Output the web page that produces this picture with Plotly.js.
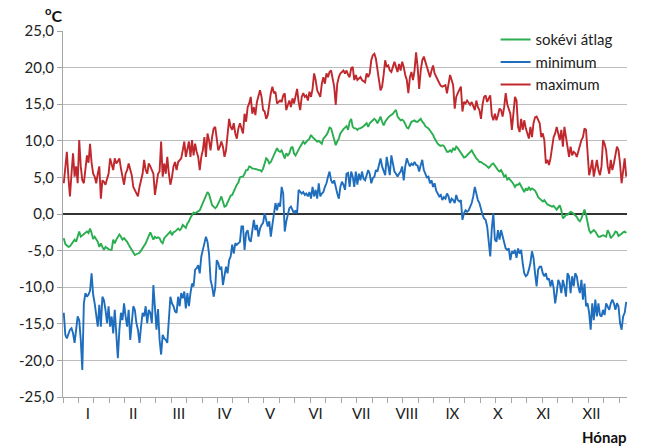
<!DOCTYPE html>
<html>
<head>
<meta charset="utf-8">
<script src="https://cdn.plot.ly/plotly-3.0.1.min.js"></script>
<style>html,body{margin:0;padding:0;background:#fff;}#chart{width:646px;height:447px;}</style>
</head>
<body>
<div id="chart"></div>
<script>
// Daily values (°C), day 1 .. 365
const avgSeries = [
-3.3,-4.1,-4.3,-4.5,-4.4,-4.1,-3.8,-3.5,-3.8,-2.9,
-2.4,-3.1,-2.9,-2.7,-2.5,-2.4,-2.6,-2.0,-2.6,-3.4,
-3.1,-3.5,-3.8,-4.5,-4.0,-4.5,-4.9,-4.5,-4.7,-4.8,
-4.9,-4.9,-3.5,-4.0,-3.5,-3.1,-2.8,-3.1,-3.5,-3.3,
-3.5,-3.8,-4.2,-4.6,-5.0,-5.4,-5.6,-5.5,-5.4,-5.3,
-5.0,-4.7,-4.4,-4.0,-3.5,-2.9,-2.5,-3.0,-3.5,-3.1,
-3.3,-3.2,-3.3,-3.8,-4.0,-3.3,-3.1,-2.9,-2.6,-2.4,
-2.9,-2.5,-2.4,-2.2,-2.0,-2.2,-2.0,-1.5,-1.7,-1.9,
-1.3,-1.0,-0.5,-0.1,0.2,0.1,0.2,0.3,0.5,1.0,
1.5,1.9,2.6,3.0,2.7,1.9,1.2,1.0,0.8,1.0,
1.6,1.9,2.4,1.5,1.0,1.1,1.5,2.1,2.5,2.6,
3.1,3.7,4.0,4.3,5.0,5.1,5.1,5.5,6.0,6.0,
6.5,6.4,6.2,6.2,6.2,6.1,6.0,6.0,5.8,6.2,
6.9,7.6,7.4,6.9,7.1,7.6,8.0,8.5,9.0,8.6,
8.5,8.7,8.0,7.6,8.3,8.0,8.3,9.0,9.2,8.3,
8.0,8.5,8.8,9.2,9.6,9.9,9.6,9.9,10.1,10.3,
10.8,10.5,10.3,10.1,9.9,10.0,9.8,9.6,10.3,10.5,
10.8,11.2,11.8,11.7,11.0,10.1,9.4,9.9,10.3,11.0,
11.4,11.6,11.8,12.0,11.5,12.6,13.0,11.9,11.7,11.7,
11.5,11.7,11.7,11.8,12.0,12.2,12.4,11.9,12.4,12.6,
12.8,13.0,12.8,12.4,12.8,13.3,12.6,12.1,12.6,13.0,
13.2,13.4,13.5,13.7,14.0,14.2,13.3,13.0,12.8,12.9,
12.7,12.3,11.8,11.7,12.1,12.6,12.7,12.8,12.6,12.6,
12.8,13.0,12.6,12.4,12.0,11.9,11.7,11.4,11.1,10.8,
10.3,9.9,9.6,9.4,9.3,9.4,9.3,8.9,8.5,8.5,
8.7,8.5,9.0,8.7,9.2,9.0,8.7,8.3,8.0,7.7,
7.8,8.0,8.2,8.5,8.7,8.3,7.9,7.6,7.4,7.1,
7.1,6.9,6.8,6.7,6.5,6.3,6.5,6.8,6.9,6.6,
6.2,6.0,5.8,6.0,5.6,5.1,5.3,4.7,4.9,4.7,
4.4,4.1,3.7,4.0,4.0,4.2,3.8,3.3,3.0,3.5,
3.2,3.7,3.3,3.5,3.4,3.2,2.8,2.3,2.1,1.9,
1.7,1.9,1.6,1.3,1.2,1.1,1.0,1.1,0.8,0.6,
0.9,1.2,0.5,-0.6,-0.4,-0.1,-0.1,0.1,0.3,0.2,
0.0,-0.1,-0.4,-0.8,-1.0,-0.6,0.1,0.6,-0.1,-1.3,
-2.2,-2.6,-2.4,-2.2,-2.4,-2.8,-3.1,-3.1,-3.0,-2.9,
-3.0,-3.1,-2.2,-2.6,-3.3,-3.1,-2.8,-2.4,-2.5,-3.0,
-2.9,-2.7,-2.5,-2.4,-2.6
];
const minSeries = [
-13.5,-16.5,-17.0,-16.5,-15.8,-15.6,-16.3,-17.6,-15.8,-14.0,
-14.5,-17.2,-21.3,-12.2,-10.8,-11.3,-11.0,-10.5,-8.1,-11.0,
-12.2,-14.0,-15.4,-12.4,-15.4,-11.3,-11.8,-13.1,-14.9,-12.6,
-15.4,-14.0,-16.3,-13.1,-17.2,-19.7,-15.8,-13.5,-14.5,-12.2,
-14.0,-15.4,-13.1,-17.2,-14.9,-12.6,-13.1,-14.9,-15.8,-17.6,
-15.4,-13.5,-14.0,-12.6,-14.9,-13.1,-13.5,-14.9,-9.7,-12.6,
-15.8,-13.0,-17.2,-19.2,-16.5,-17.0,-17.2,-17.6,-14.5,-11.3,
-12.2,-12.6,-13.3,-13.5,-11.3,-12.6,-10.8,-11.5,-10.6,-12.9,
-10.8,-12.6,-10.8,-9.5,-9.9,-7.6,-7.4,-7.0,-8.1,-5.8,
-4.9,-4.0,-3.1,-3.8,-5.4,-9.0,-9.9,-11.3,-10.1,-6.3,
-6.7,-7.6,-7.2,-9.7,-8.1,-7.2,-8.1,-6.3,-5.8,-4.2,
-5.4,-4.0,-4.2,-4.0,-3.8,-1.7,-1.7,-4.9,-2.6,-2.2,
-3.5,-3.8,-2.2,-0.8,-2.2,-1.5,-3.1,-2.0,-1.5,-1.2,
0.1,-1.0,-1.7,-1.0,-3.1,-1.5,0.1,1.5,0.5,1.5,
1.0,3.7,2.8,-2.4,-1.0,0.1,0.8,1.0,0.5,0.1,
0.5,0.1,3.3,3.0,2.8,3.0,2.6,2.8,2.4,3.0,
2.1,3.7,2.4,3.3,2.1,4.2,2.4,2.8,3.0,3.7,
4.2,5.1,5.8,4.6,4.2,4.6,3.5,2.8,2.1,3.7,
4.4,4.0,3.3,5.5,5.6,3.7,5.8,5.1,3.7,5.8,
4.0,5.5,4.6,5.8,4.8,4.6,5.3,6.0,5.5,4.2,
4.9,5.1,6.0,5.8,6.7,7.6,6.5,5.8,5.3,7.8,
6.5,5.3,8.0,7.0,5.8,5.5,5.1,5.5,5.8,6.5,
4.6,6.5,7.6,7.0,6.5,6.9,6.7,7.1,6.7,6.6,
5.8,6.7,7.4,6.0,5.5,5.0,5.1,4.2,4.6,3.7,
4.2,3.2,2.8,2.4,2.6,1.9,2.3,2.1,2.8,2.4,
1.5,2.1,1.9,1.5,2.6,1.9,1.7,1.9,-0.8,0.1,
0.5,0.3,0.5,1.0,1.5,2.4,3.7,2.8,1.9,1.5,
0.5,-0.1,-0.6,-0.8,-1.7,-4.0,-5.8,-2.0,0.1,-3.5,
-3.8,-2.2,-3.5,-2.2,-3.1,-4.2,-4.7,-4.9,-4.7,-6.3,
-5.1,-5.4,-4.9,-6.0,-4.7,-5.4,-4.9,-6.7,-8.1,-8.5,
-8.3,-7.6,-6.7,-5.1,-6.0,-8.1,-9.9,-7.6,-7.2,-7.2,
-8.1,-8.5,-8.1,-9.0,-8.8,-9.9,-9.0,-10.1,-12.2,-10.8,
-9.0,-9.5,-10.8,-9.0,-9.9,-11.3,-8.1,-8.5,-10.8,-8.5,
-9.9,-8.1,-8.5,-9.9,-10.8,-9.0,-11.7,-9.5,-12.6,-12.2,
-13.5,-15.8,-12.2,-14.5,-11.7,-14.0,-12.2,-13.8,-14.0,-13.1,
-13.8,-12.2,-12.6,-13.1,-12.2,-11.7,-12.2,-13.1,-12.2,-12.6,
-14.9,-15.8,-14.0,-13.5,-12.0
];
const maxSeries = [
4.2,7.0,8.5,5.0,2.4,5.5,8.3,5.1,6.5,4.2,
10.1,6.5,4.6,4.2,6.5,8.0,7.0,9.6,7.0,5.5,
5.1,4.2,5.5,6.5,2.1,4.6,4.4,4.0,4.8,5.5,
7.6,6.6,6.0,7.6,6.9,7.2,7.6,6.2,5.0,4.0,
5.5,6.0,6.9,6.0,5.3,3.7,3.2,2.8,2.4,3.7,
4.5,5.5,7.4,6.0,5.5,6.9,6.5,6.0,5.5,2.6,
4.5,5.5,5.8,9.9,5.1,6.9,5.5,7.8,5.5,4.0,
5.0,6.5,7.1,6.0,7.1,7.4,7.6,8.7,9.9,7.8,
8.7,9.9,7.8,10.1,8.0,9.6,8.5,7.8,6.0,7.8,
8.7,10.5,7.8,11.0,10.1,8.7,10.5,11.7,11.9,10.0,
8.7,9.2,9.9,9.2,7.8,8.7,10.5,13.0,11.9,11.5,
12.4,11.0,10.3,11.7,12.4,11.5,11.0,13.7,12.6,14.6,
15.1,16.0,13.7,14.6,13.5,15.3,16.0,16.9,16.0,14.2,
14.0,13.0,13.5,15.1,16.5,17.4,16.5,16.7,15.1,15.3,
15.5,15.3,16.2,16.5,14.2,14.9,15.5,14.6,15.8,15.1,
16.0,17.1,15.3,14.2,16.0,16.5,16.0,16.2,15.5,16.7,
16.0,17.1,19.2,18.3,16.9,16.5,16.0,17.8,18.7,17.8,
19.2,18.7,19.4,19.6,18.3,17.4,14.9,17.8,18.7,19.2,
19.4,19.6,19.2,19.6,19.0,18.7,19.9,20.1,18.3,19.0,
18.3,18.5,18.7,18.3,18.2,18.0,19.2,18.7,19.2,21.0,
21.7,21.9,21.2,19.4,18.3,16.9,17.4,19.0,21.0,20.1,
20.3,19.6,19.4,20.1,20.8,20.1,19.4,20.5,19.6,20.8,
20.1,19.0,18.3,16.5,18.7,19.4,18.3,19.6,22.1,20.1,
17.1,19.6,21.0,21.5,20.8,20.3,19.6,18.7,19.6,20.3,
19.2,18.7,18.3,17.9,17.5,17.4,17.5,17.6,16.5,17.8,
19.0,18.3,17.6,14.4,16.0,16.5,16.9,17.4,14.0,15.3,
15.1,15.5,15.2,14.9,15.3,14.6,14.2,15.5,14.6,14.2,
13.0,14.9,16.0,16.2,15.3,15.8,16.2,13.5,12.8,13.7,
12.8,13.5,14.4,14.2,13.3,14.6,16.5,15.0,14.4,13.7,
11.5,14.0,16.0,15.5,11.9,11.2,13.0,11.5,12.8,11.7,
10.8,10.3,11.9,10.5,12.4,13.2,13.3,12.8,12.4,10.5,
11.0,10.1,6.9,7.4,6.7,7.6,9.0,10.5,11.0,11.9,
11.0,10.1,11.5,9.2,11.9,10.5,8.7,7.8,9.2,8.0,
8.5,8.3,7.8,8.7,9.5,10.1,10.5,11.7,11.5,7.8,
5.3,6.2,7.4,5.1,6.5,7.4,6.0,5.3,6.5,10.1,
9.6,8.7,6.5,5.5,7.4,6.0,6.9,8.0,9.2,8.7,
6.9,4.2,6.0,7.6,5.1
];
const seriesNames = ['sokévi átlag', 'minimum', 'maximum'];
const monthLabels = ['I','II','III','IV','V','VI','VII','VIII','IX','X','XI','XII'];
const monthLabelPos = [15.5, 45, 74.5, 104, 133.5, 163, 192.5, 222, 251.5, 281, 310.5, 341.5];
const yTickVals = [25, 20, 15, 10, 5, 0, -5, -10, -15, -20, -25];
const yTickText = ['25,0','20,0','15,0','10,0','5,0','0,0','-5,0','-10,0','-15,0','-20,0','-25,0'];

const days = avgSeries.map((_, i) => i);
const font = 'Lato, "Open Sans", sans-serif';
const colors = ['#2aae4f', '#1f6ebe', '#c0282d'];
const data = [avgSeries, minSeries, maxSeries].map((ys, k) => ({
  type: 'scatter', mode: 'lines', x: days, y: ys, name: seriesNames[k],
  line: {color: colors[k], width: 1.9}, hoverinfo: 'skip'
}));
// empty trace carrying the month-label axis
data.push({type:'scatter', mode:'lines', x:[0,364], y:[null,null], xaxis:'x2', showlegend:false, hoverinfo:'skip'});

const layout = {
  width: 646, height: 447,
  margin: {l: 63.3, r: 18.7, t: 30.5, b: 49.5},
  paper_bgcolor: '#fff', plot_bgcolor: '#fff',
  font: {family: font, size: 14, color: '#222'},
  showlegend: true,
  legend: {x: 0.767, y: 1.021, xanchor: 'left', yanchor: 'top', bgcolor: 'rgba(0,0,0,0)',
           font: {family: font, size: 15, color: '#222'}, itemwidth: 30, tracegroupgap: 0},
  xaxis: {range: [-0.5, 364.5], tickmode: 'linear', tick0: -0.5, dtick: 10, ticks: 'outside', ticklen: 5,
          tickcolor: '#a6a6a6', showticklabels: false, showgrid: false, zeroline: false,
          showline: true, linecolor: '#a6a6a6', linewidth: 1, fixedrange: true},
  xaxis2: {overlaying: 'x', anchor: 'y', side: 'bottom', range: [-0.5, 364.5], tickmode: 'array',
           tickvals: monthLabelPos, ticktext: monthLabels, ticks: '', showgrid: false, zeroline: false,
           showline: false, ticklabelstandoff: 6, tickfont: {family: font, size: 15, color: '#222'}},
  yaxis: {range: [-25, 25], tickmode: 'array', tickvals: yTickVals, ticktext: yTickText,
          ticks: 'outside', ticklen: 5, tickcolor: '#a6a6a6', showgrid: true, gridcolor: '#bcbcbc', gridwidth: 1,
          zeroline: true, zerolinecolor: '#333333', zerolinewidth: 1.5,
          showline: true, linecolor: '#a6a6a6', linewidth: 1, tickfont: {family: font, size: 15, color: '#222'},
          fixedrange: true},
  annotations: [
    {xref: 'paper', yref: 'paper', x: -0.017, y: 1.045, xanchor: 'center', yanchor: 'middle', showarrow: false,
     text: '<b><sup>o</sup>C</b>', font: {family: font, size: 16, color: '#111'}},
    {xref: 'paper', yref: 'paper', x: 0.96, y: -0.108, xanchor: 'center', yanchor: 'middle', showarrow: false,
     text: '<b>Hónap</b>', font: {family: font, size: 15, color: '#111'}}
  ],
  hovermode: false
};
Plotly.newPlot('chart', data, layout, {displayModeBar: false, staticPlot: true});
</script>
</body>
</html>
